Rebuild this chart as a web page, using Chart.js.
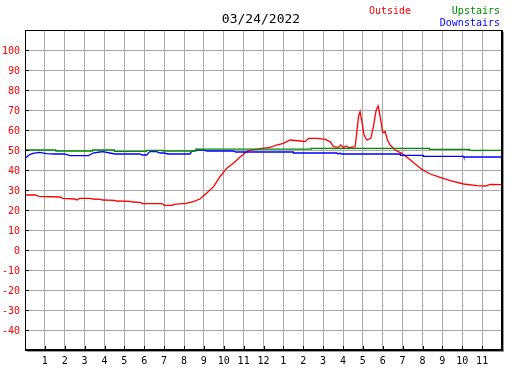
<!DOCTYPE html>
<html>
<head>
<meta charset="utf-8">
<title>03/24/2022</title>
<script src="https://cdn.jsdelivr.net/npm/chart.js@4/dist/chart.umd.min.js"></script>
<style>
  html, body { margin: 0; padding: 0; background: #fff; }
  #wrap { position: relative; width: 527px; height: 370px; }
</style>
</head>
<body>
<div id="wrap"><canvas id="temps"></canvas></div>
<script>
// ── Data (hours from midnight, temperatures °F) ────────────────────────────
const chartDate = '03/24/2022';

const outsideHours = [0, 0.5, 0.7, 1.75, 1.9, 2.5, 2.6, 2.75, 3.3, 3.4, 3.8, 3.9, 4.5, 4.6, 5.3, 5.4,
  5.8, 5.9, 6.9, 7.0, 7.4, 7.5, 8.1, 8.5, 8.8, 9.15, 9.5, 9.8, 10.14, 10.5, 10.82, 11.2, 11.32,
  11.82, 12.33, 12.66, 13.0, 13.34, 13.85, 14.1, 14.26, 14.7, 15.1, 15.35, 15.52, 15.77, 15.89,
  16.02, 16.16, 16.27, 16.61, 16.69, 16.78, 16.86, 16.95, 17.06, 17.2, 17.4, 17.53, 17.67,
  17.77, 17.87, 18.0, 18.12, 18.24, 18.37, 18.62, 18.96, 19.3, 19.63, 19.97, 20.39, 20.89,
  21.4, 22.07, 22.74, 23.16, 23.41, 24];
const outsideTemps = [27.5, 27.5, 26.8, 26.5, 25.8, 25.5, 25, 25.8, 25.8, 25.5, 25.3, 25, 24.8, 24.5, 24.3, 24,
  23.8, 23.2, 23.2, 22.3, 22.3, 22.8, 23.3, 24.3, 25.5, 28.5, 31.8, 36.5, 40.8, 43.5, 46.5, 49.5, 49.8,
  50.7, 51.3, 52.5, 53.3, 55, 54.5, 54.2, 55.8, 55.8, 55.3, 54.2, 51.7, 51.3, 52.5,
  51.2, 52, 51.2, 51.7, 58.3, 66.7, 69.2, 64.2, 57.5, 55, 55.8, 61.7, 70,
  72, 66.7, 58.7, 59.2, 55, 52.5, 50, 48.3, 45.8, 43, 40.3, 38, 36.3,
  34.7, 33, 32.2, 32, 32.8, 32.7];

// upstairs only changes in steps (each value held until the next hour mark)
const upstairsHours = [0, 1.55, 3.4, 4.5, 6.1, 6.95, 8.6, 14.4, 20.35, 22.36, 24];
const upstairsTemps = [50, 49.5, 50, 49.3, 49.8, 49.5, 50.4, 50.8, 50.3, 49.8, 49.8];

const downstairsHours = [0, 0.24, 0.4, 0.74, 1.08, 1.5, 2.0, 2.25, 3.2, 3.43, 3.76, 3.93, 4.27, 4.52,
  5.78, 5.9, 6.12, 6.28, 6.62, 6.8, 7.0, 7.2, 8.3, 8.38, 8.63, 9.0, 9.14, 10.48, 10.6, 13.5, 13.51,
  15.69, 15.75, 15.85, 15.9, 18.88, 18.89, 20.05, 20.06, 22.07, 22.08, 24];
const downstairsTemps = [45.8, 47.7, 48.3, 48.8, 48.2, 48, 48, 47.2, 47.2, 48.5, 49, 49.2, 48.5, 48,
  48, 47.5, 47.5, 49.2, 49.2, 48.5, 48.5, 48, 48, 49.2, 50, 50, 49.5, 49.5, 49, 49, 48.5,
  48.5, 48, 48.5, 48, 48, 47.3, 47.3, 46.8, 46.8, 46.5, 46.5];

const yMin = -50, yMax = 110, yStep = 10;
const hourTicks = [0, 1, 2, 3, 4, 5, 6, 7, 8, 9, 10, 11, 12, 13, 14, 15, 16, 17, 18, 19, 20, 21, 22, 23, 24];

const FONT = '"DejaVu Sans Mono", "Liberation Mono", monospace';
const RED = '#ff0000', GREEN = '#008c00', BLUE = '#0000ff', GRID = '#a9a9a9';

const pts = (xs, ys) => xs.map((x, i) => ({ x, y: ys[i] }));

function hourLabel(h) {
  if (h <= 0 || h >= 24) return '';
  return String(((h - 1) % 12) + 1);
}

// ── Frame, inward ticks, title and legend ─────────────────────────────────
const frame = {
  id: 'frame',
  afterDraw(chart) {
    const { ctx, chartArea: a, scales } = chart;
    ctx.save();
    ctx.fillStyle = '#000';
    // inward ticks
    scales.y.ticks.forEach(t => {
      if (t.value <= yMin || t.value >= yMax) return;
      const y = Math.round(scales.y.getPixelForValue(t.value));
      ctx.fillRect(a.left, y, 4, 1);
    });
    hourTicks.forEach(h => {
      if (h <= 0 || h >= 24) return;
      const x = Math.round(scales.x.getPixelForValue(h));
      ctx.fillRect(x, a.bottom - 4, 1, 4);
    });
    // border: thin left/top, thick right/bottom with grey shadow
    ctx.fillRect(a.left, a.top, a.right - a.left, 1);
    ctx.fillRect(a.left, a.top, 1, a.bottom - a.top);
    ctx.fillRect(a.right - 1, a.top, 2, a.bottom - a.top + 1);
    ctx.fillRect(a.left, a.bottom - 1, a.right - a.left + 1, 2);
    ctx.fillStyle = '#9a9a9a';
    ctx.fillRect(a.right + 1, a.top + 2, 1, a.bottom - a.top);
    ctx.fillRect(a.left + 2, a.bottom + 1, a.right - a.left, 1);

    ctx.textBaseline = 'middle';
    ctx.font = '13px ' + FONT;
    ctx.fillStyle = '#000';
    ctx.textAlign = 'center';
    ctx.fillText(chartDate, 261, 20);

    ctx.font = '10px ' + FONT;
    ctx.textAlign = 'left';
    ctx.fillStyle = RED;
    ctx.fillText('Outside', 369, 11.5);
    ctx.textAlign = 'right';
    ctx.fillStyle = GREEN;
    ctx.fillText('Upstairs', 500, 11.5);
    ctx.fillStyle = BLUE;
    ctx.fillText('Downstairs', 500, 23.5);
    ctx.restore();
  }
};

// ── Chart ─────────────────────────────────────────────────────────────────
new Chart(document.getElementById('temps'), {
  type: 'line',
  data: {
    datasets: [
      // Chart.js 'before' = horizontal at the previous value, then the jump
      { label: 'Upstairs', data: pts(upstairsHours, upstairsTemps), borderColor: GREEN, stepped: 'before' },
      { label: 'Downstairs', data: pts(downstairsHours, downstairsTemps), borderColor: BLUE },
      { label: 'Outside', data: pts(outsideHours, outsideTemps), borderColor: RED },
    ],
  },
  options: {
    responsive: true, maintainAspectRatio: false, animation: false,
    layout: { padding: { top: 30, right: 25, left: 0, bottom: 0 } },
    elements: {
      line: { borderWidth: 1.3, tension: 0, fill: false },
      point: { radius: 0 },
    },
    plugins: { legend: { display: false }, title: { display: false }, tooltip: { enabled: false } },
    scales: {
      x: {
        type: 'linear', min: 0, max: 24,
        afterBuildTicks: s => { s.ticks = hourTicks.map(v => ({ value: v })); },
        afterFit: s => { s.height = 20; },
        grid: { color: GRID, drawTicks: false },
        border: { display: false },
        ticks: {
          padding: 5, maxRotation: 0, autoSkip: false, color: '#000',
          font: { family: FONT, size: 10 },
          callback: v => hourLabel(v),
        },
      },
      y: {
        min: yMin, max: yMax,
        afterFit: s => { s.width = 25; },
        grid: { color: GRID, drawTicks: false },
        border: { display: false },
        ticks: {
          stepSize: yStep, padding: 5, labelOffset: 1.5, color: RED,
          font: { family: FONT, size: 10 },
          callback: v => (v <= yMin || v >= yMax) ? '' : String(v),
        },
      },
    },
  },
  plugins: [frame],
});
</script>
</body>
</html>
